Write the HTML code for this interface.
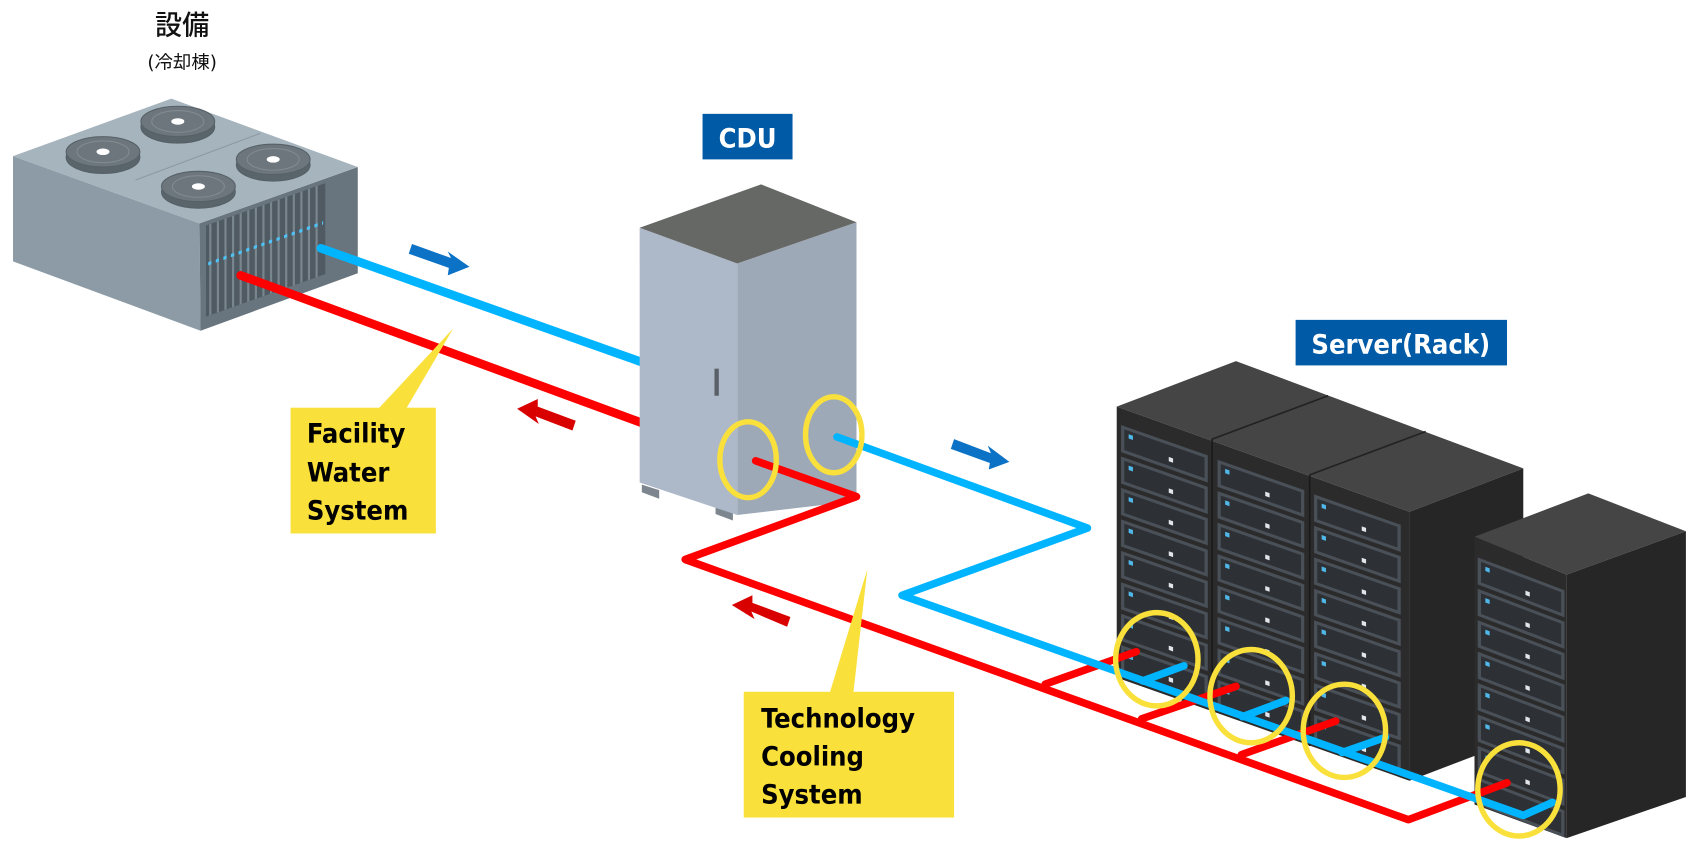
<!DOCTYPE html>
<html><head><meta charset="utf-8"><style>
html,body{margin:0;padding:0;background:#fff;}
svg{display:block;}
text{font-family:"DejaVu Sans","Liberation Sans","Noto Sans CJK JP",sans-serif;}
.lbl{font-family:"DejaVu Sans Condensed","DejaVu Sans",sans-serif;font-stretch:condensed;font-weight:bold;}
</style></head><body>
<svg width="1700" height="849" viewBox="0 0 1568 783" preserveAspectRatio="none" xmlns="http://www.w3.org/2000/svg">
<defs>
<g id="unit">
  <rect x="0" y="0" width="80" height="25" fill="#4a5058"/>
  <rect x="3" y="3" width="74" height="19" fill="#2d3034"/>
  <rect x="7" y="6" width="4" height="4" fill="#4fb8e8"/>
  <rect x="44" y="14" width="4" height="4" fill="#e0e6ec"/>
</g>
<g id="rackunits">
  <use href="#unit" y="14"/><use href="#unit" y="43"/><use href="#unit" y="72"/><use href="#unit" y="101"/>
  <use href="#unit" y="130"/><use href="#unit" y="159"/><use href="#unit" y="188"/><use href="#unit" y="217"/>
</g>
</defs>

<!-- Title 設備 -->
<text x="168" y="32" font-size="25" text-anchor="middle" fill="#111" font-family="Noto Sans CJK JP, sans-serif" font-weight="500">設備</text>
<text x="168" y="63" font-size="17" text-anchor="middle" fill="#111" font-family="Noto Sans CJK JP, sans-serif">(冷却棟)</text>

<!-- Chiller -->
<polygon points="12,144 184,206 185,305 12,241" fill="#8c9ba5"/>
<polygon points="184,206 330,154 330,252 185,305" fill="#68757e"/>
<polygon points="12,144 158,91 330,154 184,206" fill="#a6b4bd"/>
<line x1="125" y1="166" x2="240" y2="123" stroke="#8c99a2" stroke-width="1"/>
<g fill="#6c767c" stroke="#566067" stroke-width="1">
  <ellipse cx="95" cy="145" rx="34" ry="15" fill="#5a646b"/><ellipse cx="95" cy="140" rx="34" ry="14"/>
  <ellipse cx="164" cy="117" rx="34" ry="15" fill="#5a646b"/><ellipse cx="164" cy="112" rx="34" ry="14"/>
  <ellipse cx="252" cy="152" rx="34" ry="15" fill="#5a646b"/><ellipse cx="252" cy="147" rx="34" ry="14"/>
  <ellipse cx="183" cy="177" rx="34" ry="15" fill="#5a646b"/><ellipse cx="183" cy="172" rx="34" ry="14"/>
</g>
<g fill="none" stroke="#808a90" stroke-width="1">
  <ellipse cx="95" cy="140" rx="24" ry="10"/><ellipse cx="164" cy="112" rx="24" ry="10"/>
  <ellipse cx="252" cy="147" rx="24" ry="10"/><ellipse cx="183" cy="172" rx="24" ry="10"/>
</g>
<g fill="#fff"><ellipse cx="95" cy="140" rx="6" ry="3"/><ellipse cx="164" cy="112" rx="6" ry="3"/><ellipse cx="252" cy="147" rx="6" ry="3"/><ellipse cx="183" cy="172" rx="6" ry="3"/></g>
<g transform="matrix(1,-0.356,0,1,190,214)">
  <rect x="0" y="-6" width="110" height="84" fill="#4f5a62"/>
  <g stroke="#7a868e" stroke-width="2">
    <line x1="4" y1="-6" x2="4" y2="78"/><line x1="11" y1="-6" x2="11" y2="78"/><line x1="18" y1="-6" x2="18" y2="78"/><line x1="25" y1="-6" x2="25" y2="78"/>
    <line x1="32" y1="-6" x2="32" y2="78"/><line x1="39" y1="-6" x2="39" y2="78"/><line x1="46" y1="-6" x2="46" y2="78"/><line x1="53" y1="-6" x2="53" y2="78"/>
    <line x1="60" y1="-6" x2="60" y2="78"/><line x1="67" y1="-6" x2="67" y2="78"/><line x1="74" y1="-6" x2="74" y2="78"/><line x1="81" y1="-6" x2="81" y2="78"/>
    <line x1="88" y1="-6" x2="88" y2="78"/><line x1="95" y1="-6" x2="95" y2="78"/><line x1="102" y1="-6" x2="102" y2="78"/>
  </g>
  <line x1="2" y1="30" x2="108" y2="30" stroke="#4fc3f7" stroke-width="3" stroke-dasharray="3 4"/>
</g>

<!-- Facility pipes -->
<line x1="296" y1="229" x2="592" y2="334" stroke="#00b4ff" stroke-width="8" stroke-linecap="round"/>
<line x1="222" y1="254" x2="592" y2="390" stroke="#ff0000" stroke-width="8" stroke-linecap="round"/>

<!-- arrows -->
<g fill="#0b72c5">
  <polygon points="380,225 416,238 413,232 433,246 413,254 414,247 377,234"/>
  <polygon points="880,405 914,418 911,411 931,426 912,433 913,427 877,414"/>
</g>
<g fill="#d90000">
  <polygon points="528,397 494,384 497,391 477,377 496,368 496,375 531,388"/>
  <polygon points="726,578 693,564 696,571 675,558 694,549 694,556 729,569"/>
</g>

<!-- CDU -->
<polygon points="592,454 608,460 608,452 592,447" fill="#7d868e"/>
<polygon points="660,474 676,480 676,472 660,466" fill="#7d868e"/>
<polygon points="590,210 680,243 680,475 590,445" fill="#adb9c9"/>
<polygon points="680,243 790,205 790,462 680,475" fill="#9ea9b8"/>
<polygon points="590,210 702,170 790,205 680,243" fill="#666866"/>
<rect x="659" y="340" width="4" height="25" fill="#5a6068"/>
<rect x="648" y="105" width="83" height="42" fill="#005aa6"/>
<text x="689.5" y="136" font-size="25" text-anchor="middle" fill="#fff" class="lbl">CDU</text>

<!-- Racks -->
<polygon points="1030,375 1140,333 1405,432 1300,472" fill="#454545"/>
<line x1="1118" y1="405" x2="1225" y2="365" stroke="#222" stroke-width="1.5"/>
<line x1="1208" y1="438" x2="1315" y2="398" stroke="#222" stroke-width="1.5"/>
<polygon points="1300,472 1405,432 1405,680 1300,720" fill="#262626"/>
<polygon points="1030,375 1300,472 1300,720 1030,625" fill="#2b2b2b"/>
<line x1="1118" y1="405" x2="1118" y2="655" stroke="#1a1a1a" stroke-width="1.5"/>
<line x1="1208" y1="438" x2="1208" y2="688" stroke="#1a1a1a" stroke-width="1.5"/>
<g transform="matrix(1,0.35,0,1,1034,378)"><use href="#rackunits"/></g>
<g transform="matrix(1,0.35,0,1,1123,410)"><use href="#rackunits"/></g>
<g transform="matrix(1,0.35,0,1,1212,442)"><use href="#rackunits"/></g>

<polygon points="1360,495 1465,455 1555,490 1445,530" fill="#454545"/>
<polygon points="1445,530 1555,490 1555,735 1445,773" fill="#262626"/>
<polygon points="1360,495 1445,530 1445,773 1360,742" fill="#2b2b2b"/>
<g transform="matrix(1,0.38,0,1,1363,500)"><use href="#rackunits"/></g>

<!-- TCS pipes -->
<g fill="none" stroke-linecap="round" stroke-linejoin="round" stroke-width="7">
  <polyline points="697,425 790,458 632,516 1299,756 1390,722" stroke="#ff0000"/>
  <line x1="964" y1="631" x2="1048" y2="601" stroke="#ff0000"/>
  <line x1="1053" y1="663" x2="1140" y2="633" stroke="#ff0000"/>
  <line x1="1145" y1="696" x2="1232" y2="665" stroke="#ff0000"/>
  <polyline points="772,403 1003,487 832,549 1405,752 1432,740" stroke="#00b4ff"/>
  <line x1="1054" y1="628" x2="1092" y2="614" stroke="#00b4ff"/>
  <line x1="1146" y1="661" x2="1186" y2="646" stroke="#00b4ff"/>
  <line x1="1238" y1="694" x2="1278" y2="680" stroke="#00b4ff"/>
</g>

<!-- Yellow circles -->
<g fill="none" stroke="#f9e03b" stroke-width="5">
  <ellipse cx="690" cy="424" rx="26" ry="35"/>
  <ellipse cx="769" cy="401" rx="26" ry="35"/>
  <ellipse cx="1067" cy="608" rx="38" ry="43"/>
  <ellipse cx="1154" cy="642" rx="38" ry="43"/>
  <ellipse cx="1240" cy="674" rx="38" ry="43"/>
  <ellipse cx="1401" cy="728" rx="38" ry="43"/>
</g>

<!-- Labels -->
<polygon points="348,378 374,378 418,303" fill="#f9e03b"/>
<rect x="268" y="376" width="134" height="116" fill="#f9e03b"/>
<text font-size="25" fill="#000" class="lbl"><tspan x="283" y="408">Facility</tspan><tspan x="283" y="444">Water</tspan><tspan x="283" y="479">System</tspan></text>

<polygon points="765,640 787,640 800,525" fill="#f9e03b"/>
<rect x="686" y="638" width="194" height="116" fill="#f9e03b"/>
<text font-size="25" fill="#000" class="lbl"><tspan x="702" y="671">Technology</tspan><tspan x="702" y="706">Cooling</tspan><tspan x="702" y="741">System</tspan></text>

<rect x="1195" y="295" width="195" height="42" fill="#005aa6"/>
<text x="1292" y="326" font-size="25" text-anchor="middle" fill="#fff" class="lbl">Server(Rack)</text>
</svg>
</body></html>
